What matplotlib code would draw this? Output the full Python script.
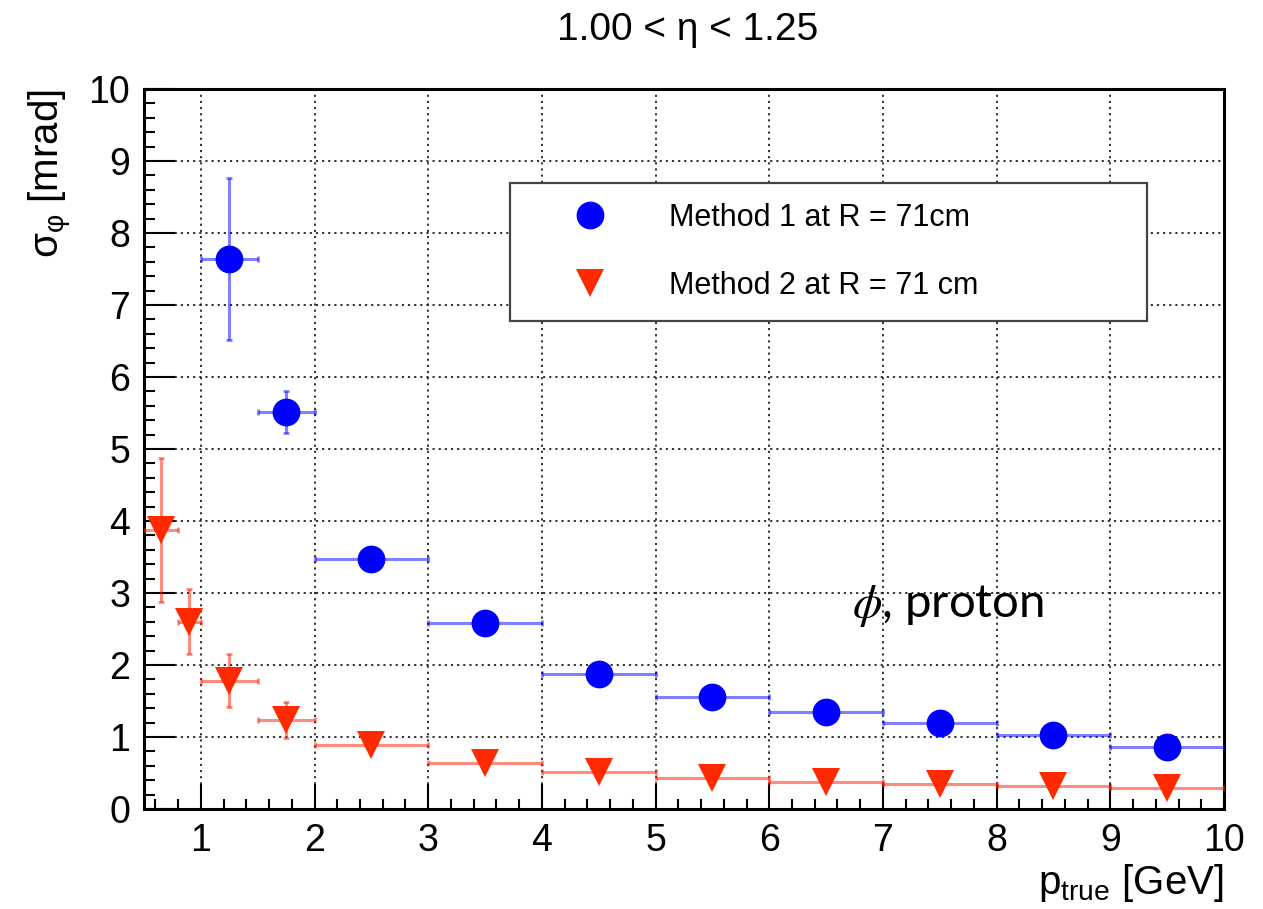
import matplotlib
matplotlib.use("Agg")
import matplotlib.pyplot as plt
from matplotlib.ticker import MultipleLocator

# -------------------------
# DATA
# -------------------------
m1_x = [1.25, 1.75, 2.5, 3.5, 4.5, 5.5, 6.5, 7.5, 8.5, 9.5]
m1_xerr = [0.25, 0.25, 0.5, 0.5, 0.5, 0.5, 0.5, 0.5, 0.5, 0.5]
m1_y = [7.64, 5.51, 3.47, 2.58, 1.87, 1.56, 1.35, 1.19, 1.03, 0.86]
m1_yerr = [1.13, 0.29, 0.03, 0.03, 0.02, 0.02, 0.02, 0.02, 0.02, 0.02]

m2_x = [0.65, 0.9, 1.25, 1.75, 2.5, 3.5, 4.5, 5.5, 6.5, 7.5, 8.5, 9.5]
m2_xerr = [0.15, 0.1, 0.25, 0.25, 0.5, 0.5, 0.5, 0.5, 0.5, 0.5, 0.5, 0.5]
m2_y = [3.88, 2.6, 1.78, 1.24, 0.89, 0.64, 0.51, 0.43, 0.375, 0.35, 0.32, 0.29]
m2_yerr = [1.0, 0.45, 0.37, 0.25, 0.02, 0.02, 0.02, 0.02, 0.02, 0.02, 0.02, 0.02]

labels = ["Method 1 at R = 71cm", "Method 2 at R = 71 cm"]

# -------------------------
# STYLE
# -------------------------
plt.rcParams['font.family'] = ['Liberation Sans', 'DejaVu Sans']
plt.rcParams['mathtext.default'] = 'regular'

fig = plt.figure(figsize=(12.63, 9.09), dpi=100)
ax = fig.add_axes([144 / 1263, 100 / 909, 1080 / 1263, 720 / 909])

BLUE = '#0000ff'
RED = '#ff2a00'

# error bars
ax.errorbar(m1_x, m1_y, xerr=m1_xerr, yerr=m1_yerr, fmt='none',
            ecolor=(0, 0, 1, 0.5), elinewidth=2.2, capsize=2.5, capthick=2, zorder=3)
ax.errorbar(m2_x, m2_y, xerr=m2_xerr, yerr=m2_yerr, fmt='none',
            ecolor=(1, 0.1, 0, 0.5), elinewidth=2.2, capsize=2.5, capthick=2, zorder=3)

# markers
ax.plot(m1_x, m1_y, 'o', color=BLUE, markersize=20, markeredgewidth=0,
        label=labels[0], zorder=4)
ax.plot(m2_x, m2_y, 'v', color=RED, markersize=20, markeredgewidth=0,
        label=labels[1], zorder=4)

# axes
ax.set_xlim(0.5, 10)
ax.set_ylim(0, 10)
ax.xaxis.set_major_locator(MultipleLocator(1))
ax.xaxis.set_minor_locator(MultipleLocator(0.2))
ax.yaxis.set_major_locator(MultipleLocator(1))
ax.yaxis.set_minor_locator(MultipleLocator(0.2))

ax.tick_params(axis='both', which='both', direction='in', top=False, right=False,
               labelsize=27, width=1.5, pad=10)
ax.tick_params(axis='x', which='major', length=18)
ax.tick_params(axis='x', which='minor', length=7)
ax.tick_params(axis='y', which='major', length=22)
ax.tick_params(axis='y', which='minor', length=8)

for s in ax.spines.values():
    s.set_linewidth(2.2)

ax.grid(True, which='major', color='#222222', linestyle=(0, (1.2, 2.2)), linewidth=1.3)
ax.set_axisbelow(True)

ax.set_xlabel('p$_{true}$ [GeV]', fontsize=29, loc='right', labelpad=2)
ax.set_ylabel('σ$_{φ}$ [mrad]', fontsize=29, loc='top', labelpad=10)

leg = ax.legend(loc='upper left', bbox_to_anchor=(0.339, 0.5, 0.590, 0.369),
                mode='expand', borderaxespad=0, fontsize=22, numpoints=1,
                fancybox=False, edgecolor='#444444', framealpha=1,
                borderpad=0.64, labelspacing=1.25, handlelength=3.95,
                handletextpad=0.6)
leg.get_frame().set_linewidth(1.6)

ax.text(0.656, 0.267, r'$\mathit{\phi}$, proton', transform=ax.transAxes,
        fontsize=34, family=['Lato', 'DejaVu Sans'], math_fontfamily='stix',
        va='baseline', ha='left')

fig.text(688 / 1263, 1 - 30 / 909, '1.00 < η < 1.25', fontsize=28,
         ha='center', va='center')

fig.savefig('out.png', dpi=100)
